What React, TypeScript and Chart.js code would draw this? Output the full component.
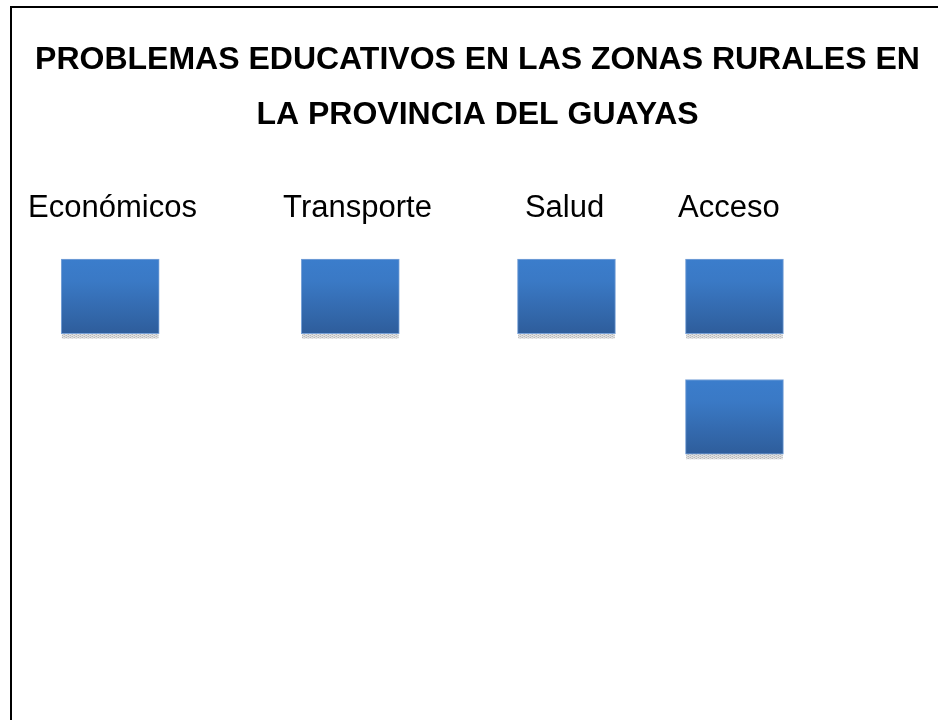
import React, { useEffect, useRef } from "react";
import { Chart, registerables } from "chart.js";

Chart.register(...registerables);

// ---- data ----
const TITLE_LINES = [
  "PROBLEMAS EDUCATIVOS EN LAS ZONAS RURALES EN",
  "LA PROVINCIA DEL GUAYAS",
];
const categories = ["Económicos", "Transporte", "Salud", "Acceso"];
// column positions on a 0..10 horizontal scale
const labelPositions = [1.037, 3.697, 5.945, 7.729];
const boxPositions = [1.012, 3.619, 5.966, 7.79];
// number of boxes stacked under each category
const boxCounts = [1, 1, 1, 2];

// ---- styles ----
const FONT = "'Liberation Sans', Arial, sans-serif";
const ROW_OFFSET = 0.16;
const BOX_H = 0.62;
const SHADOW_H = 0.038;
const TOP_COLOR = "#3b7dcc";
const BOTTOM_COLOR = "#2e5d9b";

function makeShadowPattern(): CanvasPattern | string {
  const c = document.createElement("canvas");
  c.width = 4;
  c.height = 2;
  const g = c.getContext("2d");
  if (!g) return "#cccccc";
  g.fillStyle = "#e2e2e2";
  g.fillRect(0, 0, 4, 2);
  g.fillStyle = "#b8b8b8";
  g.fillRect(0, 0, 1, 1);
  g.fillRect(2, 1, 1, 1);
  g.fillStyle = "#cfcfcf";
  g.fillRect(1, 1, 1, 1);
  g.fillRect(3, 0, 1, 1);
  const p = g.createPattern(c, "repeat");
  return p || "#cccccc";
}

const frameBorder = {
  id: "frameBorder",
  beforeDraw(chart: any) {
    const { ctx, width, height } = chart;
    ctx.save();
    ctx.fillStyle = "#ffffff";
    ctx.fillRect(0, 0, width, height);
    ctx.fillStyle = "#000000";
    ctx.fillRect(10, 6, width - 10, 2);
    ctx.fillRect(10, 6, 2, height - 6);
    ctx.restore();
  },
};

export default function App() {
  const ref = useRef<HTMLCanvasElement | null>(null);

  useEffect(() => {
    if (!ref.current) return;
    const boxes: { x: number; y: [number, number] }[] = [];
    const shadows: { x: number; y: [number, number] }[] = [];
    categories.forEach((_, c) => {
      for (let r = 0; r < boxCounts[c]; r++) {
        const top = r + ROW_OFFSET;
        boxes.push({ x: boxPositions[c], y: [top, top + BOX_H] });
        shadows.push({
          x: boxPositions[c],
          y: [top + BOX_H, top + BOX_H + SHADOW_H],
        });
      }
    });
    const pattern = makeShadowPattern();

    const chart = new Chart(ref.current, {
      type: "bar",
      data: {
        datasets: [
          {
            label: "sombra",
            data: shadows as any,
            backgroundColor: pattern as any,
            borderWidth: 0,
            barThickness: 96,
            grouped: false,
            order: 2,
          } as any,
          {
            label: "problemas",
            data: boxes as any,
            backgroundColor: (ctx: any) => {
              const chart = ctx.chart;
              const ys = chart.scales && chart.scales.y;
              const raw = ctx.raw;
              if (!ys || !chart.chartArea || !raw || !raw.y) return TOP_COLOR;
              const y0 = ys.getPixelForValue(raw.y[0]);
              const y1 = ys.getPixelForValue(raw.y[1]);
              const g = chart.ctx.createLinearGradient(0, y0, 0, y1);
              g.addColorStop(0, TOP_COLOR);
              g.addColorStop(0.3, "#3a79c5");
              g.addColorStop(1, BOTTOM_COLOR);
              return g;
            },
            borderColor: "#7aa3d8",
            borderWidth: 1,
            borderSkipped: false,
            barThickness: 98,
            grouped: false,
            order: 1,
          } as any,
        ],
      },
      options: {
        responsive: false,
        animation: false,
        events: [],
        layout: { padding: { left: 17, right: 0, top: 0, bottom: 0 } },
        plugins: {
          legend: { display: false },
          tooltip: { enabled: false },
          title: {
            display: true,
            text: TITLE_LINES,
            color: "#000000",
            align: "center",
            font: { family: FONT, size: 32, weight: "bold", lineHeight: 55 / 32 },
            padding: { top: 33, bottom: 34.5 },
          },
        },
        scales: {
          x: {
            type: "linear",
            position: "top",
            min: 0,
            max: 10,
            offset: false,
            grid: { display: false, drawTicks: false },
            border: { display: false },
            afterBuildTicks: (scale: any) => {
              scale.ticks = labelPositions.map((v) => ({ value: v }));
            },
            ticks: {
              autoSkip: false,
              maxRotation: 0,
              minRotation: 0,
              padding: 12.5,
              color: "#000000",
              font: { family: FONT, size: 31, lineHeight: 1.2 },
              callback: (_v: any, i: number) => categories[i],
            },
          },
          y: {
            type: "linear",
            display: false,
            reverse: true,
            min: 0,
            max: 3.985,
          },
        },
      },
      plugins: [frameBorder],
    } as any);

    return () => chart.destroy();
  }, []);

  return (
    <div style={{ position: "fixed", left: 0, top: 0, width: 938, height: 720 }}>
      <canvas ref={ref} width={938} height={720} style={{ display: "block" }} />
    </div>
  );
}
